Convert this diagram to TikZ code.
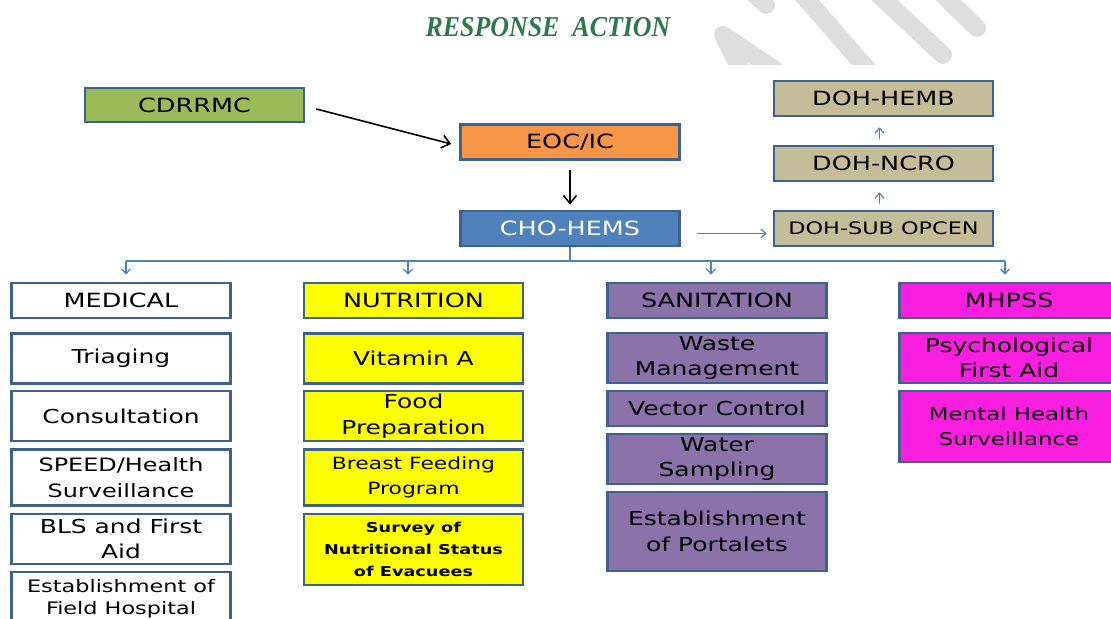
\documentclass[tikz,border=0pt]{standalone}
\usepackage{fontspec}
\setmainfont{DejaVu Sans}[FakeStretch=1.3]
\newfontfamily\titlefont{Liberation Serif}[FakeStretch=0.9]
\usepackage{tikz}
\usetikzlibrary{arrows.meta, positioning}
\definecolor{cdrgreen}{RGB}{155,187,89}
\definecolor{eocorange}{RGB}{247,150,70}
\definecolor{choblue}{RGB}{79,129,189}
\definecolor{dohtan}{RGB}{196,189,151}
\definecolor{nutyellow}{RGB}{255,255,0}
\definecolor{sanpurple}{RGB}{139,114,168}
\definecolor{mhpink}{RGB}{250,30,224}
\definecolor{boxborder}{RGB}{62,98,142}
\definecolor{titlegreen}{RGB}{47,120,78}
\definecolor{wmgray}{RGB}{222,222,222}

\begin{document}
\begin{tikzpicture}[x=0.5pt, y=-0.5pt,
    box/.style={draw=boxborder, line width=1.3pt, minimum width=109.5pt, inner sep=1pt,
        align=center, font=\fontsize{9.6}{12.8}\selectfont},
    blackarrow/.style={-{Straight Barb[length=4pt,width=6.5pt]}, line width=0.8pt},
    bluearrow/.style={-{Straight Barb[length=2.5pt,width=4.5pt]}, choblue, line width=0.6pt},
    wmstroke/.style={wmgray, line width=9pt, line cap=round}]
    \useasboundingbox (0,0) rectangle (1111,619);

    % watermark
    \begin{scope}
        \clip (680,0) rectangle (1000,65);
        \draw[wmstroke] (723,35) -- (742,72);
        \draw[wmstroke] (723,35) -- (775,70);
        \draw[wmstroke] (745,-15) -- (766,5);
        \draw[wmstroke] (800,-8) -- (868,70);
        \draw[wmstroke] (878,-6) -- (943,55);
        \draw[wmstroke] (942,-6) -- (977,28);
    \end{scope}

    % title
    \node[font=\titlefont\fontsize{14.4}{16}\selectfont\bfseries\itshape, text=titlegreen] (title) at (548,27) {RESPONSE\ \ ACTION};

    % command chain
    \node[box, fill=cdrgreen, minimum height=17pt, font=\fontsize{9.8}{12}\selectfont] (cdr) at (194.5,105) {CDRRMC};
    \node[box, fill=eocorange, minimum height=17.5pt, font=\fontsize{9.8}{12}\selectfont] (eoc) at (570,142) {EOC/IC};
    \node[box, fill=choblue, minimum height=17.5pt, text=white, font=\fontsize{9.8}{12}\selectfont] (cho) at (570,228.5) {CHO-HEMS};

    \node[box, fill=dohtan, minimum height=17.5pt, font=\fontsize{9.8}{12}\selectfont] (hemb) at (883.5,98.5) {DOH-HEMB};
    \node[box, fill=dohtan, minimum height=17.5pt, font=\fontsize{9.8}{12}\selectfont] (ncro) at (883.5,163.5) {DOH-NCRO};
    \node[box, fill=dohtan, minimum height=17.5pt, font=\fontsize{8.6}{12}\selectfont] (sub) at (883.5,228.5) {DOH-SUB OPCEN};

    \draw[blackarrow] ([xshift=5.5pt,yshift=-2pt]cdr.east) -- ([xshift=-4pt,yshift=-1pt]eoc.west);
    \draw[blackarrow] ([yshift=-4.5pt]eoc.south) -- ([yshift=2.5pt]cho.north);
    \draw[bluearrow] ([xshift=8pt,yshift=-2.5pt]cho.east) -- ([xshift=-3pt,yshift=-2.5pt]sub.west);
    \draw[bluearrow] ([xshift=-2pt,yshift=3pt]sub.north) -- ([xshift=-2pt,yshift=-5pt]ncro.south);
    \draw[bluearrow] ([xshift=-2pt,yshift=3pt]ncro.north) -- ([xshift=-2pt,yshift=-5pt]hemb.south);

    % teams
    \node[box, fill=white, minimum height=17.5pt, font=\fontsize{9.8}{12}\selectfont] (med) at (121,300.5) {MEDICAL};
    \node[box, fill=nutyellow, minimum height=17.5pt, font=\fontsize{9.8}{12}\selectfont] (nut) at (413.5,300.5) {NUTRITION};
    \node[box, fill=sanpurple, minimum height=17.5pt, font=\fontsize{9.8}{12}\selectfont] (san) at (717,300.5) {SANITATION};
    \node[box, fill=mhpink, minimum height=17.5pt, font=\fontsize{9.8}{12}\selectfont] (mh) at (1009,300.5) {MHPSS};

    \coordinate (busL) at (126,261);
    \coordinate (busR) at (1005,261);
    \draw[choblue, line width=0.6pt] (cho.south) -- (cho.south |- busL);
    \draw[choblue, line width=0.6pt] (busL) -- (busR);
    \foreach \team/\x in {med/126, nut/408, san/711, mh/1005}
        \draw[bluearrow, shorten >=3.5pt] (\x,261) -- (\x,0 |- \team.north);

    % medical
    \node[box, fill=white, minimum height=25pt] (medA) at (121,358.5) {Triaging};
    \node[box, fill=white, minimum height=25pt] (medB) at (121,416) {Consultation};
    \node[box, fill=white, minimum height=28pt, font=\fontsize{9.2}{12.7}\selectfont] (medC) at (121,477.5) {SPEED/Health\\Surveillance};
    \node[box, fill=white, minimum height=25pt] (medD) at (121,539) {BLS and First\\Aid};
    \node[box, fill=white, minimum height=27pt, font=\fontsize{8.6}{11}\selectfont] (medE) at (121,599) {Establishment of\\Field Hospital};

    % nutrition
    \node[box, fill=nutyellow, minimum height=25pt] (nutA) at (413.5,358.5) {Vitamin A};
    \node[box, fill=nutyellow, minimum height=25pt] (nutB) at (413.5,416) {Food\\Preparation};
    \node[box, fill=nutyellow, minimum height=28pt, font=\fontsize{8.4}{12.2}\selectfont] (nutC) at (413.5,477.5) {Breast Feeding\\Program};
    \node[box, fill=nutyellow, minimum height=35.5pt, font=\fontsize{6.8}{10.8}\selectfont\bfseries] (nutD) at (413.5,549.5) {Survey of\\Nutritional Status\\of Evacuees};

    % sanitation
    \node[box, fill=sanpurple, minimum height=25pt] (sanA) at (717,358) {Waste\\Management};
    \node[box, fill=sanpurple, minimum height=17.5pt] (sanB) at (717,408.5) {Vector Control};
    \node[box, fill=sanpurple, minimum height=25pt] (sanC) at (717,459) {Water\\Sampling};
    \node[box, fill=sanpurple, minimum height=39.5pt] (sanD) at (717,531.5) {Establishment\\of Portalets};

    % mhpss
    \node[box, fill=mhpink, minimum height=25pt] (mhA) at (1009,358) {Psychological\\First Aid};
    \node[box, fill=mhpink, minimum height=35.5pt, font=\fontsize{8.8}{12.4}\selectfont] (mhB) at (1009,426.5) {Mental Health\\Surveillance};
\end{tikzpicture}
\end{document}
